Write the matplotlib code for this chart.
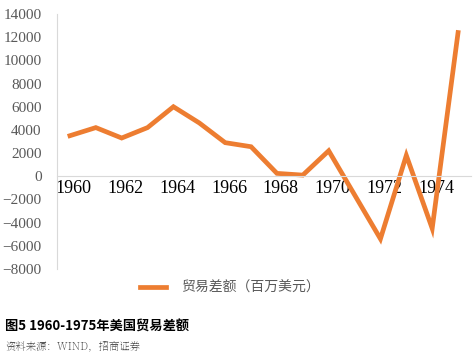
import numpy as np
import matplotlib.pyplot as plt

plt.rcParams['font.family'] = ['Noto Sans CJK SC', 'DejaVu Sans']

years = list(range(1960, 1976))
balance = [3500, 4200, 3300, 4200, 6000, 4600, 2900, 2550, 250, 100,
           2200, -1600, -5400, 1800, -4500, 12400]
yticks = list(range(-8000, 14001, 2000))
xtick_years = list(range(1960, 1975, 2))

serif_fam = ['Liberation Serif', 'DejaVu Serif']
cjk_serif = ['Noto Serif SC', 'Noto Sans CJK SC', 'DejaVu Sans']

fig = plt.figure(figsize=(4.76, 3.58), dpi=100)
ax = fig.add_axes([57/476, 1-269/358, (471-57)/476, 255/358])

x = np.arange(len(years))
ax.plot(x, balance, color='#ED7D31', lw=3.4, solid_joinstyle='miter',
        label='贸易差额（百万美元）')

# spine position has to be set before the tick labels, it resets them
ax.spines['bottom'].set_position(('data', 0))
ax.spines['bottom'].set_color('#d9d9d9')
ax.spines['left'].set_color('#d9d9d9')
ax.spines['right'].set_color('none')
ax.spines['top'].set_color('none')

ax.set_xlim(-0.5, len(years) - 0.5)
ax.set_ylim(-8000, 14000)
ax.set_yticks(yticks)
ax.set_yticklabels([str(v).replace('-', '−') for v in yticks],
                   fontfamily=serif_fam, fontsize=11, color='#595959')
ax.set_xticks([years.index(y) + 0.15 for y in xtick_years])
ax.set_xticklabels([str(y) for y in xtick_years],
                   fontfamily=serif_fam, fontsize=13, color='black')
ax.tick_params(axis='both', length=0)
ax.tick_params(axis='x', pad=3)
ax.tick_params(axis='y', pad=11)

leg = fig.legend(loc='center', bbox_to_anchor=(0.483, 1-288/358), frameon=False,
                 fontsize=10, handlelength=1.9, handletextpad=1.1)
for t in leg.get_texts():
    t.set_color('#595959')

fig.text(5/476, 1-327/358, '图5 1960-1975年美国贸易差额', fontsize=9.5,
         weight='bold', va='center', ha='left')
fig.text(5/476, 1-347/358, '资料来源：WIND，招商证券', fontsize=7.5,
         family=cjk_serif, color='#595959', va='center', ha='left')

fig.savefig('out.png', dpi=100)
